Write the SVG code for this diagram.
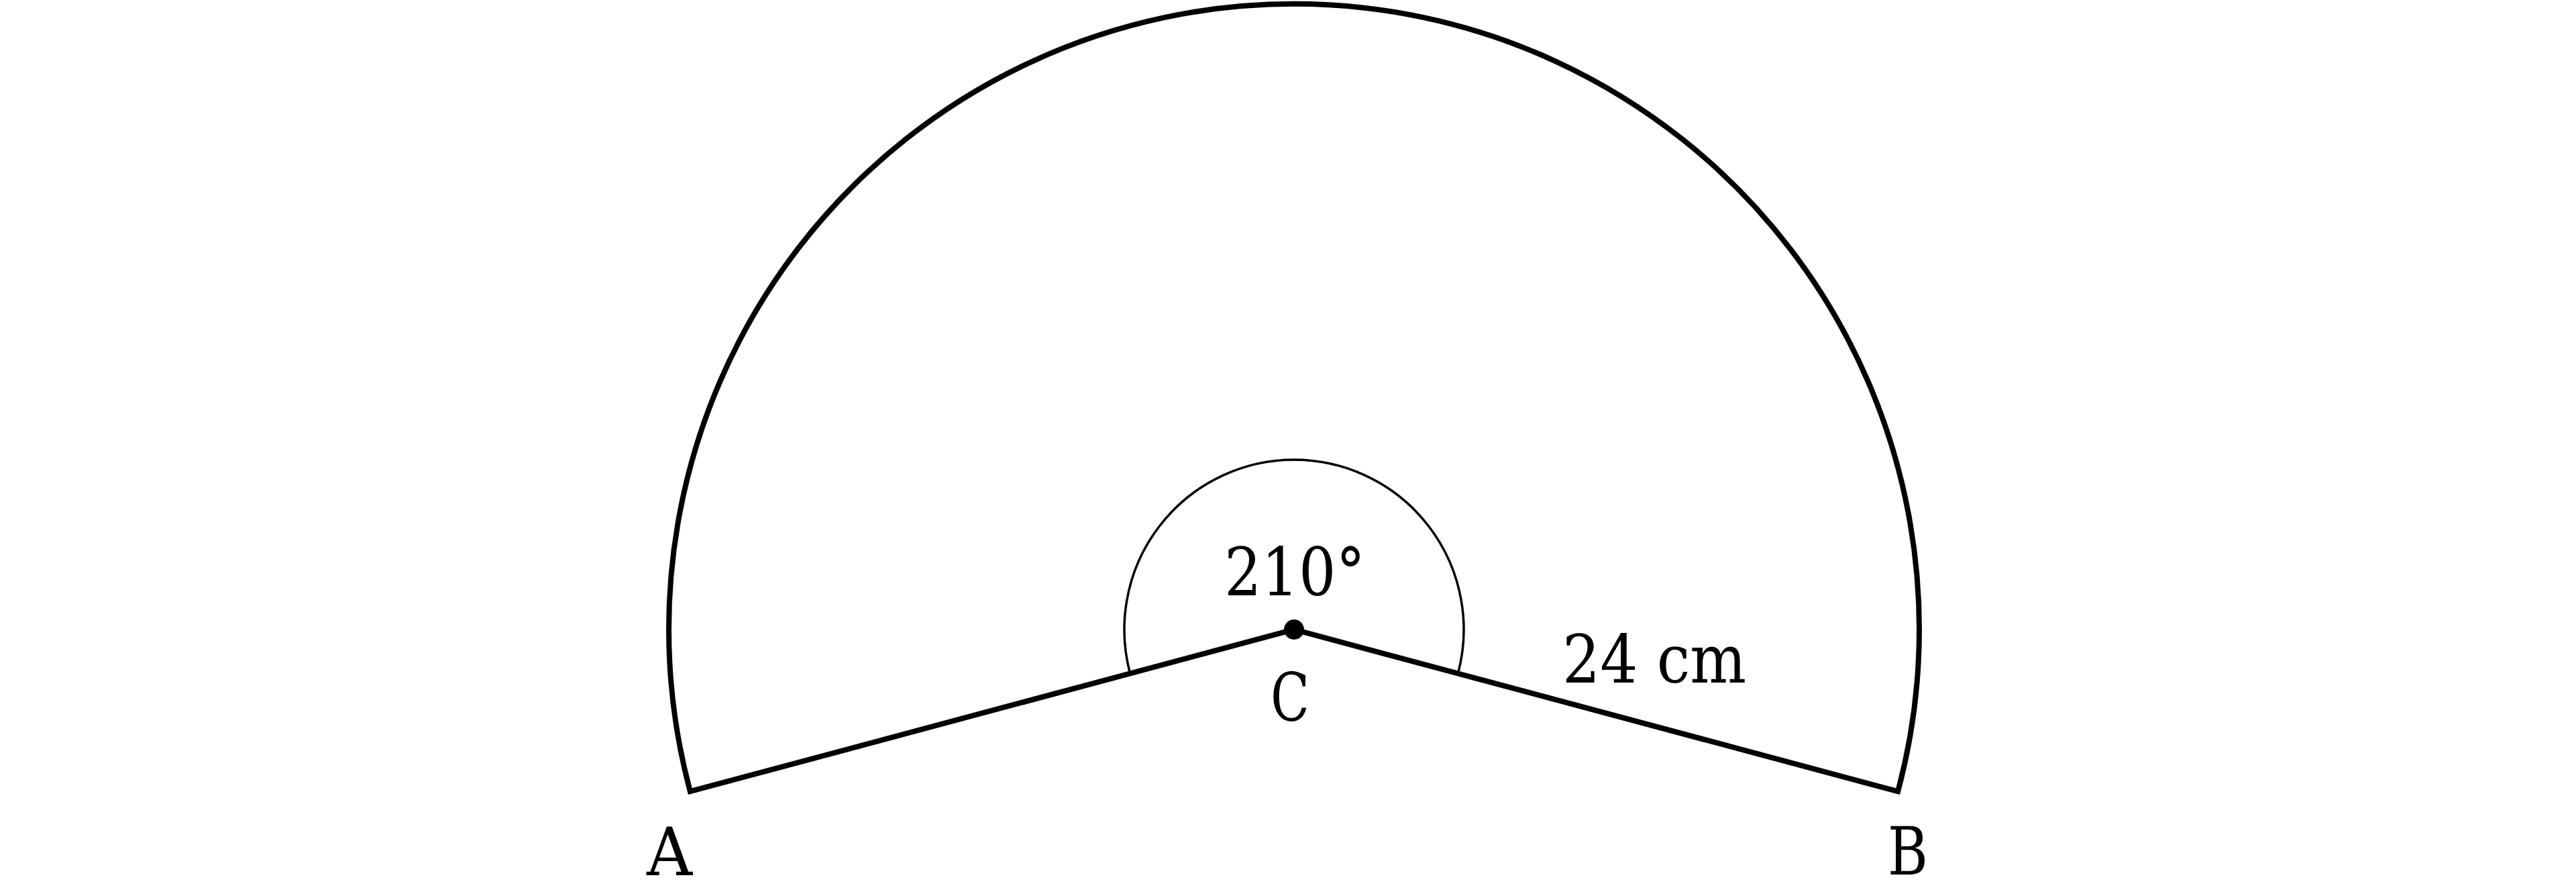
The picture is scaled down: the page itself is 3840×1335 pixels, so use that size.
<svg xmlns="http://www.w3.org/2000/svg" width="3840" height="1335" viewBox="0 0 3840 1335">
  <style>
    .thick { fill: none; stroke: #000; stroke-width: 8; stroke-linejoin: miter; stroke-miterlimit: 10; }
    .thin { fill: none; stroke: #000; stroke-width: 3.5; }
    .lbl { font-family: "DejaVu Serif", "Liberation Serif", serif; font-size: 99px; fill: #000; }
  </style>
  <rect x="0" y="0" width="3840" height="1335" fill="#fff"/>
  <g id="sector">
    <path class="thick" d="M 1028.8 1179.2 A 932 932 0 1 1 2829.2 1179.2 L 1929 938 Z"/>
  </g>
  <g id="angle-arc">
    <path class="thin" d="M 1684.6 1003.5 A 253 253 0 1 1 2173.4 1003.5"/>
  </g>
  <g id="center-C">
    <circle cx="1929" cy="938" r="15" fill="#000"/>
    <text class="lbl" x="1894" y="1074" textLength="58" lengthAdjust="spacingAndGlyphs">C</text>
  </g>
  <g id="point-A">
    <text class="lbl" x="964" y="1304" textLength="68" lengthAdjust="spacingAndGlyphs">A</text>
  </g>
  <g id="point-B">
    <text class="lbl" x="2814" y="1303" textLength="60" lengthAdjust="spacingAndGlyphs">B</text>
  </g>
  <g id="labels">
    <text class="lbl" x="1825" y="887" textLength="210" lengthAdjust="spacingAndGlyphs">210°</text>
    <text class="lbl" x="2329" y="1017" textLength="274" lengthAdjust="spacingAndGlyphs">24 cm</text>
  </g>
</svg>
